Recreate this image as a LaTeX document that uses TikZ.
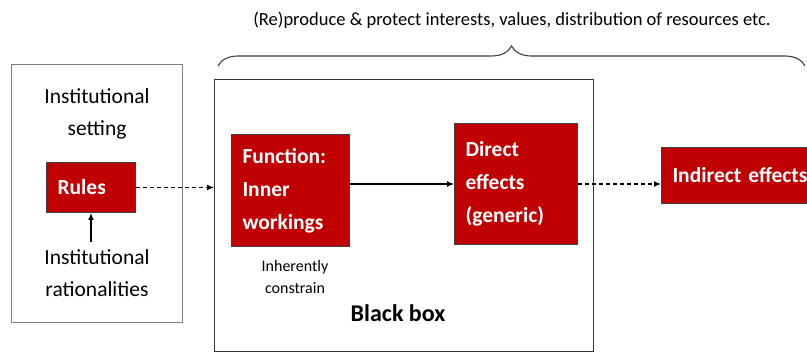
\documentclass[tikz,border=0pt]{standalone}
\usepackage{fontspec}
\setmainfont{Carlito}
\usetikzlibrary{positioning,arrows.meta,decorations.pathreplacing}
\definecolor{boxred}{HTML}{C00000}
\tikzset{
  >={Latex[length=7pt,width=6pt]},
  redbox/.style ={draw=black!75, fill=boxred, text=white, anchor=north west,
                  font=\fontsize{21.5}{33}\selectfont\bfseries,
                  align=left, inner xsep=11pt, inner ysep=0pt},
  boxframe/.style={draw=black!50, line width=0.9pt, anchor=north west, inner sep=0pt},
}

\begin{document}
\begin{tikzpicture}[x=1pt, y=-1pt, line width=1pt,
  textlbl/.style={font=\fontsize{21.5}{32}\selectfont, align=center},
  smalllbl/.style={font=\fontsize{16}{22}\selectfont, align=center},
  flow/.style={->, line width=1.2pt},
  dashflow/.style={->, line width=1.2pt, dash pattern=on 4pt off 3pt},
]

%--- Page (pixel grid, y runs down) ---
\useasboundingbox (0,0) rectangle (807,352);
\clip (0,0) rectangle (807,352);

%--- Frames ---
\node[boxframe, minimum width=171pt, minimum height=258pt] (setbox) at (11,64) {};
\node[boxframe, draw=black!80, line width=1.2pt, minimum width=379pt, minimum height=272pt] (bbox) at (214,79) {};

%--- Brace and note on top ---
\coordinate (braceL) at (218,66);
\coordinate (braceR) at (805,66);
\draw[decorate, decoration={brace, amplitude=20pt}, line width=1.1pt, black!75] (braceL) -- (braceR);
\node[font=\fontsize{18.5}{22}\selectfont] (topnote) at (512,20)
  {(Re)produce \& protect interests, values, distribution of resources etc.};

%--- Institutional setting ---
\node[textlbl] (setting) at (97,114) {Institutional\\setting};
\node[redbox, text width=67pt, minimum height=50pt] (rules) at (46,162) {Rules};
\node[textlbl] (ration) at (97,273) {Institutional\\rationalities};
\draw[flow] ([yshift=4pt]rules.south |- ration.north) -- (rules.south);

%--- Inside the black box ---
\node[redbox, text width=96pt, minimum height=112pt] (func) at (231,134)
  {Function:\\Inner\\workings};
\node[smalllbl] (constrain) at (295,277) {Inherently\\constrain};
\node[redbox, text width=101pt, minimum height=121pt] (direct) at (454,123)
  {Direct\\effects\\(generic)};
\node[font=\fontsize{24}{28}\selectfont\bfseries] (bbtitle) at (398,313) {Black box};

%--- Outside ---
\node[redbox, text width=138pt, minimum height=56pt] (indirect) at (661,147) {Indirect effects};

%--- Connectors ---
\draw[dashflow] (rules.east) -- (rules.east -| bbox.west);
\draw[flow] (func.east |- direct.west) -- (direct.west);
\draw[dashflow] (direct.east) -- (direct.east -| indirect.west);

\end{tikzpicture}
\end{document}
